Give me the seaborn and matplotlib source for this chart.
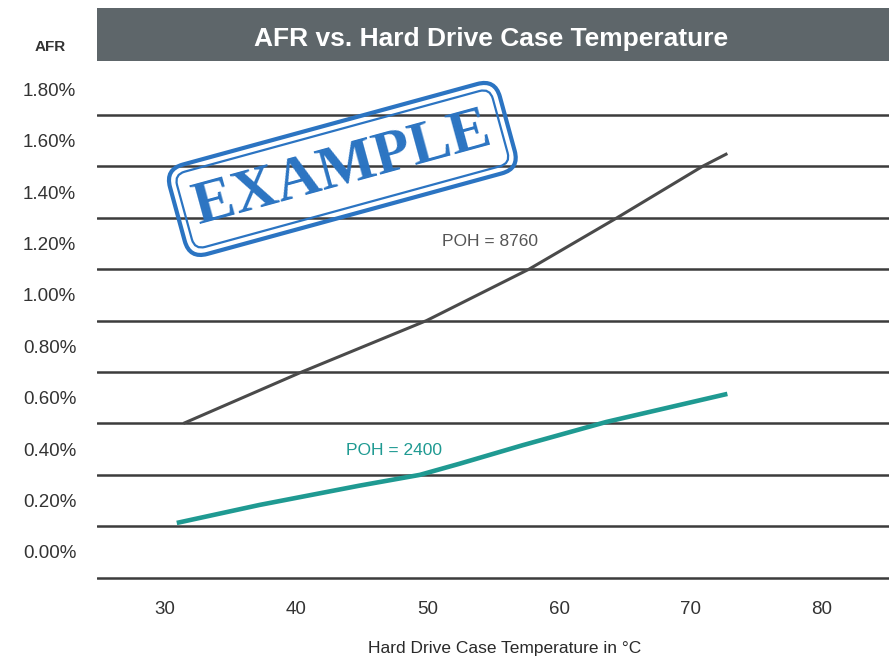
import numpy as np
import pandas as pd
import matplotlib
matplotlib.use("Agg")
import matplotlib.pyplot as plt
from matplotlib.patches import Rectangle
from matplotlib.ticker import FixedLocator
import seaborn as sns

# ---- data ----
temp_8760 = [31.4, 40.4, 49.9, 57.7, 64.4, 70.9, 72.8]
afr_8760 = [0.50, 0.70, 0.90, 1.10, 1.30, 1.50, 1.55]
temp_2400 = [30.9, 37.2, 44.8, 49.4, 52.4, 57.2, 63.6, 72.8]
afr_2400 = [0.113, 0.183, 0.258, 0.30, 0.343, 0.415, 0.506, 0.615]
series_names = ["POH = 8760", "POH = 2400"]
y_ticks = [0.0, 0.2, 0.4, 0.6, 0.8, 1.0, 1.2, 1.4, 1.6, 1.8]
y_tick_labels = ["0.00%", "0.20%", "0.40%", "0.60%", "0.80%", "1.00%", "1.20%", "1.40%", "1.60%", "1.80%"]
grid_levels = [-0.1, 0.1, 0.3, 0.5, 0.7, 0.9, 1.1, 1.3, 1.5, 1.7]
x_ticks = [30, 40, 50, 60, 70, 80]

title = "AFR vs. Hard Drive Case Temperature"
xlabel = "Hard Drive Case Temperature in \u00b0C"
ylabel = "AFR"
stamp_text = "EXAMPLE"

df = pd.concat([
    pd.DataFrame({"temp": temp_8760, "afr": afr_8760, "series": series_names[0]}),
    pd.DataFrame({"temp": temp_2400, "afr": afr_2400, "series": series_names[1]}),
])

sns.set_theme(style="white")
plt.rcParams["font.family"] = ["Liberation Sans", "DejaVu Sans"]

W, H = 892, 659
fig = plt.figure(figsize=(W / 100, H / 100), dpi=100)
ax = fig.add_axes([97 / W, 1 - 580 / H, (889 - 97) / W, (580 - 61) / H])

dark = "#4a4a4a"
teal = "#1f9a92"
palette = {series_names[0]: dark, series_names[1]: teal}
widths = {series_names[0]: 2.2, series_names[1]: 3.3}

sns.lineplot(data=df, x="temp", y="afr", hue="series", palette=palette,
             ax=ax, legend=False, sort=True, estimator=None)
for ln in ax.get_lines():
    c = matplotlib.colors.to_hex(ln.get_color())
    ln.set_linewidth(widths[series_names[1]] if c == teal else widths[series_names[0]])
    ln.set_zorder(4)
    ln.set_solid_capstyle("butt")
    ln.set_solid_joinstyle("round")

ax.set_xlim(24.83, 85.1)
ax.set_ylim(-0.109, 1.91)
ax.set_xticks(x_ticks)
ax.set_xticklabels([str(t) for t in x_ticks])
ax.set_yticks(y_ticks)
ax.set_yticklabels(y_tick_labels)
ax.yaxis.set_minor_locator(FixedLocator(grid_levels))
ax.grid(False)
ax.grid(True, which="minor", axis="y", color="#3c3c3c", linewidth=1.8)
ax.set_axisbelow(True)
ax.tick_params(axis="both", which="both", length=0)
ax.tick_params(axis="y", which="major", pad=15, labelsize=13.5, labelcolor="#333333")
ax.tick_params(axis="x", which="major", pad=15, labelsize=13.5, labelcolor="#333333")
for s in ax.spines.values():
    s.set_visible(False)
ax.set_xlabel("")
ax.set_ylabel("")

# x label
fig.text(505 / W, 1 - 648 / H, xlabel, ha="center", va="center",
         fontsize=12.5, color="#2a2a2a")
# y label
fig.text(50 / W, 1 - 47 / H, ylabel, ha="center", va="center",
         fontsize=11, fontweight="bold", color="#333333")

# title bar
fig.add_artist(Rectangle((97 / W, 1 - 61 / H), (889 - 97) / W, 53 / H,
                         transform=fig.transFigure, facecolor="#5e666a",
                         edgecolor="none", zorder=1))
fig.text(491 / W, 1 - 39 / H, title, ha="center", va="center",
         fontsize=19, fontweight="bold", color="white", zorder=2)

# series labels
ax.text(54.7, 1.206, series_names[0], ha="center", va="center",
        fontsize=12.5, color="#555555", zorder=5)
ax.text(47.4, 0.393, series_names[1], ha="center", va="center",
        fontsize=12.5, color=teal, zorder=5)

# EXAMPLE stamp
stamp_blue = "#2b74c2"
ax.text(43.5, 1.49, stamp_text, ha="center", va="center", rotation=15.3,
        rotation_mode="anchor", fontsize=44, fontweight="bold",
        family=["Liberation Serif", "DejaVu Serif"], color=stamp_blue, zorder=6,
        bbox=dict(boxstyle="round,pad=0.18", facecolor="none",
                  edgecolor=stamp_blue, linewidth=1.6))
ax.text(43.5, 1.49, stamp_text, ha="center", va="center", rotation=15.3,
        rotation_mode="anchor", fontsize=44, fontweight="bold",
        family=["Liberation Serif", "DejaVu Serif"], color="none", zorder=6,
        bbox=dict(boxstyle="round,pad=0.30", facecolor="none",
                  edgecolor=stamp_blue, linewidth=3.0))

fig.savefig("out.png", dpi=100)
